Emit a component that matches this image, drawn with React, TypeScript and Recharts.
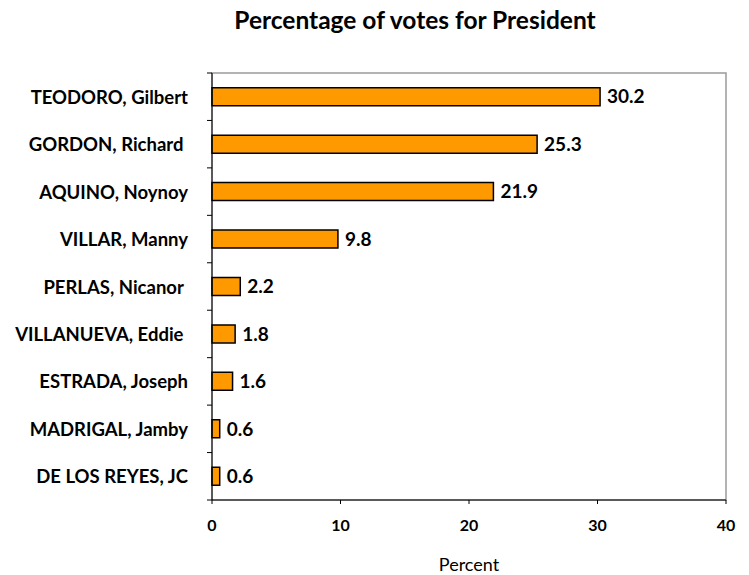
import React from 'react';
import { BarChart, Bar, XAxis, YAxis, LabelList, ReferenceArea } from 'recharts';

const candidates = [
  'TEODORO, Gilbert',
  'GORDON, Richard ',
  'AQUINO, Noynoy',
  'VILLAR, Manny',
  'PERLAS, Nicanor ',
  'VILLANUEVA, Eddie ',
  'ESTRADA, Joseph',
  'MADRIGAL, Jamby',
  'DE LOS REYES, JC',
];
const percents = [30.2, 25.3, 21.9, 9.8, 2.2, 1.8, 1.6, 0.6, 0.6];
const xTicks = [0, 10, 20, 30, 40];

const data = candidates.map((name, i) => ({ name, value: percents[i] }));

const FONT = 'Lato, "Open Sans", sans-serif';
const TOP = 73;
const BOTTOM = 500;
const LEFT = 212;
const band = (BOTTOM - TOP) / candidates.length;

const CategoryTick = (props: any) => {
  const { x, y, payload, index } = props;
  return (
    <g>
      <text
        x={x - 16}
        y={y}
        textAnchor="end"
        dominantBaseline="central"
        fontFamily={FONT}
        fontWeight="bold"
        fontSize={18.5}
        fill="#000"
        style={{ whiteSpace: 'pre' }}
      >
        {payload.value}
      </text>
      <line x1={LEFT - 5} x2={LEFT} y1={y + band / 2} y2={y + band / 2} stroke="#000" />
      {index === 0 && <line x1={LEFT - 5} x2={LEFT} y1={y - band / 2} y2={y - band / 2} stroke="#000" />}
    </g>
  );
};

export default function App() {
  return (
    <div style={{ position: 'absolute', left: 0, top: 0, width: 749, height: 575, background: '#fff' }}>
      <div
        style={{
          position: 'absolute',
          left: 0,
          top: 5,
          width: 830,
          textAlign: 'center',
          fontFamily: FONT,
          fontWeight: 'bold',
          fontSize: 24.5,
          color: '#000',
        }}
      >
        Percentage of votes for President
      </div>
      <BarChart
        width={749}
        height={575}
        data={data}
        layout="vertical"
        margin={{ top: TOP, right: 23, bottom: 0, left: 0 }}
        barCategoryGap="31%"
      >
        <ReferenceArea x1={0} x2={40} fill="none" stroke="#9a9a9a" strokeWidth={1.5} ifOverflow="extendDomain" />
        <XAxis
          type="number"
          domain={[0, 40]}
          ticks={xTicks}
          height={75}
          axisLine={{ stroke: '#000' }}
          tickLine={{ stroke: '#000' }}
          tickSize={4}
          tickMargin={16}
          tick={{ fontFamily: FONT, fontWeight: 'bold', fontSize: 16, fill: '#000' }}
          label={{ value: 'Percent', position: 'insideBottom', offset: 4, fontFamily: FONT, fontSize: 18, fill: '#000' }}
        />
        <YAxis
          type="category"
          dataKey="name"
          width={LEFT}
          axisLine={{ stroke: '#000' }}
          tickLine={false}
          tick={<CategoryTick />}
          interval={0}
        />
        <Bar dataKey="value" fill="#ff9900" stroke="#000" strokeWidth={1.5} isAnimationActive={false}>
          <LabelList
            dataKey="value"
            position="right"
            offset={7}
            fontFamily={FONT}
            fontWeight="bold"
            fontSize={19}
            fill="#000"
            formatter={(v: any) => Number(v).toFixed(1)}
          />
        </Bar>
      </BarChart>
    </div>
  );
}
